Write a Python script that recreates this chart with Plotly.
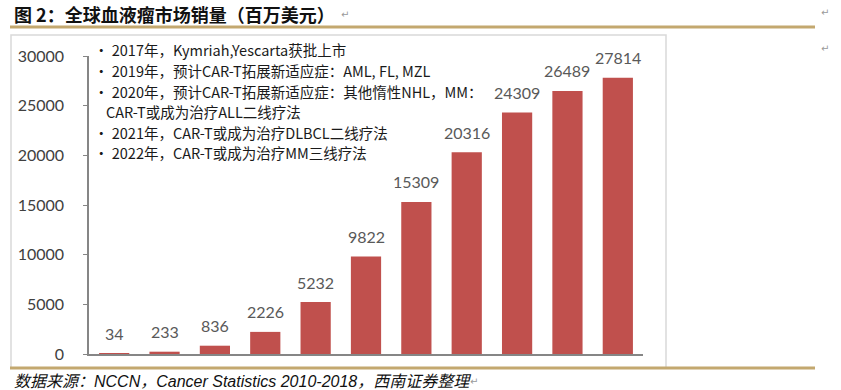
import plotly.graph_objects as go

# ---- data ----
years = ["2012", "2013", "2014", "2015", "2016", "2017", "2018", "2019", "2020", "2021", "2022"]
sales = [34, 233, 836, 2226, 5232, 9822, 15309, 20316, 24309, 26489, 27814]
y_ticks = [0, 5000, 10000, 15000, 20000, 25000, 30000]
y_tick_labels = ["0", "5000", "10000", "15000", "20000", "25000", "30000"]
title_text = "图 2：全球血液瘤市场销量（百万美元）"
source_text = "数据来源：NCCN，Cancer Statistics 2010-2018，西南证券整理"
notes = [
    "• 2017年，Kymriah,Yescarta获批上市",
    "• 2019年，预计CAR-T拓展新适应症：AML, FL, MZL",
    "• 2020年，预计CAR-T拓展新适应症：其他惰性NHL，MM：",
    "CAR-T或成为治疗ALL二线疗法",
    "• 2021年，CAR-T或成为治疗DLBCL二线疗法",
    "• 2022年，CAR-T或成为治疗MM三线疗法",
]

# ---- layout helpers (pixel -> paper) ----
W, H = 841, 390
L, R, T, B = 89, 643, 56, 354


def px(x):
    return (x - L) / (R - L)


def py(y):
    return (B - y) / (B - T)


BAR = "#C0504D"
AXIS = "#868686"
GOLD = "#C3A86F"

fig = go.Figure(
    go.Bar(x=years, y=sales, marker_color=BAR, marker_line_width=0, width=0.6,
           hoverinfo="x+y")
)

ann = []
for i, v in enumerate(sales):
    ann.append(dict(x=i, y=v, xref="x", yref="y", text=str(v), showarrow=False,
                    xanchor="center", yanchor="middle", yshift=20,
                    font=dict(family="Lato, Open Sans, sans-serif", size=16, color="#595959")))

note_y = [50, 70.5, 91, 111.5, 132, 152.5]
note_x = [92, 92, 92, 104, 92, 92]
for t, yy, xx in zip(notes, note_y, note_x):
    ann.append(dict(x=px(xx), y=py(yy), xref="paper", yref="paper", text=t, showarrow=False,
                    xanchor="left", yanchor="middle",
                    font=dict(family="Noto Sans CJK SC, sans-serif", size=14.5, color="#1a1a1a")))

ann.append(dict(x=px(12), y=py(14), xref="paper", yref="paper", text="<b>" + title_text + "</b>",
                showarrow=False, xanchor="left", yanchor="middle",
                font=dict(family="Noto Sans CJK SC, sans-serif", size=18, color="#111111")))
ann.append(dict(x=px(12), y=py(381), xref="paper", yref="paper", text="<i>" + source_text + "</i>",
                showarrow=False, xanchor="left", yanchor="middle",
                font=dict(family="Liberation Sans, Noto Sans CJK SC, sans-serif", size=16, color="#111111")))
for (xx, yy) in [(339, 14), (468, 381), (819, 12), (819, 48)]:
    ann.append(dict(x=px(xx), y=py(yy), xref="paper", yref="paper", text="↵", showarrow=False,
                    xanchor="left", yanchor="middle",
                    font=dict(family="DejaVu Sans, sans-serif", size=10, color="#9a9a9a")))

shapes = [
    dict(type="rect", xref="paper", yref="paper", x0=px(11), x1=px(666), y0=py(368), y1=py(35),
         line=dict(color="#D9D9D9", width=1.5), fillcolor="rgba(0,0,0,0)", layer="below"),
    dict(type="line", xref="paper", yref="paper", x0=px(10), x1=px(815), y0=py(27), y1=py(27),
         line=dict(color=GOLD, width=3)),
    dict(type="line", xref="paper", yref="paper", x0=px(10), x1=px(815), y0=py(368), y1=py(368),
         line=dict(color=GOLD, width=3)),
]

fig.update_layout(
    width=W, height=H,
    margin=dict(l=L, r=W - R, t=T, b=H - B, pad=0),
    paper_bgcolor="white", plot_bgcolor="white",
    showlegend=False,
    annotations=ann,
    shapes=shapes,
    xaxis=dict(type="category", range=[-0.5, 10.5], showticklabels=False, ticks="", showgrid=False,
               zeroline=False, showline=True, linecolor=AXIS, linewidth=1.5, fixedrange=True),
    yaxis=dict(range=[0, 30000], tickvals=y_ticks, ticktext=y_tick_labels, showgrid=False, zeroline=False,
               showline=True, linecolor=AXIS, linewidth=1.5, ticks="outside", ticklen=4,
               tickcolor=AXIS, ticklabelstandoff=16,
               tickfont=dict(family="Lato, Open Sans, sans-serif", size=16, color="#404040"),
               fixedrange=True),
)

fig.write_html("out.html", config={"displayModeBar": False},
               post_script="document.body.style.margin='0';document.body.style.padding='0';"
                           "document.body.style.overflow='hidden';")
